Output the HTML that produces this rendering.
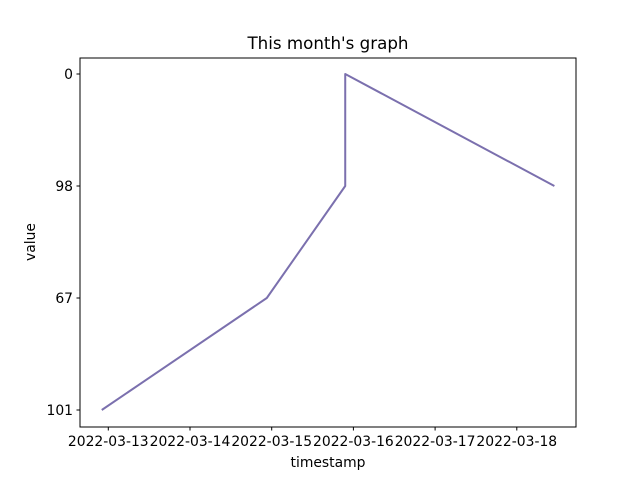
<!DOCTYPE html>
<html><head><meta charset="utf-8"><style>
body{margin:0;background:#fff}
svg{display:block;font-family:"DejaVu Sans","Liberation Sans",sans-serif}
</style></head><body>
<svg id="chart" width="640" height="480">
<rect width="640" height="480" fill="#fff"/>
<text x="328" y="49" font-size="16.7" text-anchor="middle">This month's graph</text>
<g id="plot"></g>
<rect x="80" y="58" width="496" height="369" fill="none" stroke="#000" stroke-width="1"/>
<text x="328" y="467" font-size="13.9" text-anchor="middle">timestamp</text>
<text transform="translate(35,242) rotate(-90)" font-size="13.9" text-anchor="middle">value</text>
</svg>
<script>
const categories = ["101","67","98","0"];
const xDays = [12.92, 14.94, 15.9, 15.9, 18.46];
const yValues = ["101","67","98","0","98"];
const xTickLabels = ["2022-03-13","2022-03-14","2022-03-15","2022-03-16","2022-03-17","2022-03-18"];
const xTickDays = [13,14,15,16,17,18];

const NS="http://www.w3.org/2000/svg";
const g=document.getElementById('plot');
function xs(d){return 108.3+(d-13)*81.7;}
function ys(c){return 410-categories.indexOf(c)*112;}
function mk(t,a){const e=document.createElementNS(NS,t);for(const k in a)e.setAttribute(k,a[k]);g.appendChild(e);return e;}
xTickDays.forEach((d,i)=>{
  const l=mk('line',{x1:xs(d),x2:xs(d),y1:427,y2:430.5,stroke:'#000'});
  
  
  const t=mk('text',{x:xs(d),y:446,'font-size':13.9,'text-anchor':'middle'});
  t.textContent=xTickLabels[i];
  
  
});
categories.forEach(c=>{
  const l=mk('line',{x1:76.5,x2:80,y1:ys(c),y2:ys(c),stroke:'#000'});
  
  
  const t=mk('text',{x:73,y:ys(c)+5,'font-size':13.9,'text-anchor':'end'});
  t.textContent=c;
  
  
});
const pts=xDays.map((d,i)=>xs(d)+','+ys(yValues[i])).join(' ');
const p=mk('polyline',{points:pts,fill:'none',stroke:'#7b70ae','stroke-width':2,'stroke-linejoin':'round'});


</script>
</body></html>
